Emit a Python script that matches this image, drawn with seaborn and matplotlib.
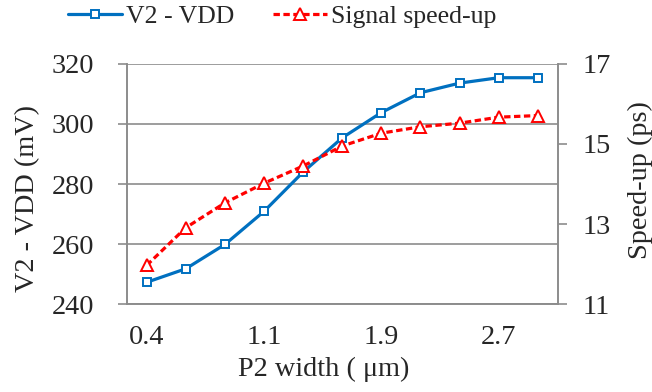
import pandas as pd
import seaborn as sns
import matplotlib.pyplot as plt

# data
p2_width = [0.4, 0.65, 0.9, 1.15, 1.4, 1.65, 1.9, 2.15, 2.4, 2.65, 2.9]
v2_vdd = [247.3, 251.8, 259.9, 270.9, 284.0, 295.4, 303.8, 310.4, 313.6, 315.4, 315.4]
speedup = [11.97, 12.91, 13.53, 14.02, 14.45, 14.95, 15.27, 15.43, 15.52, 15.67, 15.71]

x_tick_pos = [0.4, 1.15, 1.9, 2.65]
x_tick_labels = ['0.4', '1.1', '1.9', '2.7']
x_tick_marks = [0.275, 0.65, 1.025, 1.4, 1.775, 2.15, 2.525, 2.9]
left_ticks = [240, 260, 280, 300, 320]
right_ticks = [11, 13, 15, 17]

df = pd.DataFrame({'x': p2_width, 'v2': v2_vdd, 'sp': speedup})

sns.set_style('white')
plt.rcParams['font.family'] = 'serif'
plt.rcParams['font.serif'] = ['Liberation Serif', 'DejaVu Serif']
fs = 20.3      # ticks and axis titles
fs_leg = 18.5  # legend
grey = '#8c8c8c'

fig = plt.figure(figsize=(6.52, 3.92), dpi=100)
ax = fig.add_axes([0.195, 0.224, 0.661, 0.613])
ax2 = ax.twinx()

sns.lineplot(data=df, x='x', y='v2', ax=ax, color='#0070C0', linewidth=2.3,
             marker='s', markersize=6, markerfacecolor='white',
             markeredgecolor='#0070C0', markeredgewidth=1.4, label='V2 - VDD',
             legend=False)
sns.lineplot(data=df, x='x', y='sp', ax=ax2, color='#FF0000', linewidth=2.3,
             linestyle=(0, (2.0, 1.1)), marker='^', markersize=8,
             markerfacecolor='white', markeredgecolor='#FF0000',
             markeredgewidth=1.4, label='Signal speed-up', legend=False)

ax.set_xlim(0.275, 3.03)
ax.set_ylim(240, 320)
ax2.set_ylim(11, 17)

ax.set_yticks(left_ticks)
ax2.set_yticks(right_ticks)
ax.set_xticks(x_tick_marks)
ax.set_xticklabels([])
ax.set_xticks(x_tick_pos, minor=True)
ax.set_xticklabels(x_tick_labels, minor=True)

ax.yaxis.grid(True, color=grey, linewidth=1.2)
ax.set_axisbelow(True)

for a in (ax, ax2):
    for s in a.spines.values():
        s.set_color(grey)
        s.set_linewidth(1.2)
    a.spines['top'].set_visible(False)
    a.tick_params(which='major', direction='out', length=6.5, width=1.2,
                  color=grey, labelsize=fs, pad=4)
ax.tick_params(axis='x', which='minor', length=0, labelsize=fs, pad=15)
ax.tick_params(axis='y', pad=17)
ax2.tick_params(axis='y', pad=11)

ax.set_xlabel('P2 width ( \u03bcm)', fontsize=fs, va='center')
ax.xaxis.set_label_coords(0.455, -0.27)
ax.set_ylabel('V2 - VDD (mV)', fontsize=fs, va='center')
ax.yaxis.set_label_coords(-0.232, 0.44)
ax2.set_ylabel('Speed-up (ps)', fontsize=fs, va='center', rotation=90)
ax2.yaxis.set_label_coords(1.19, 0.517)

h1, l1 = ax.get_legend_handles_labels()
h2, l2 = ax2.get_legend_handles_labels()
fig.legend(h1 + h2, l1 + l2, loc='center left',
           bbox_to_anchor=(68 / 652, 1 - 17 / 392), ncol=2, frameon=False,
           fontsize=fs_leg, handlelength=2.1, handletextpad=0.16,
           columnspacing=1.5, borderpad=0, borderaxespad=0)

fig.savefig('out.png', dpi=100)
